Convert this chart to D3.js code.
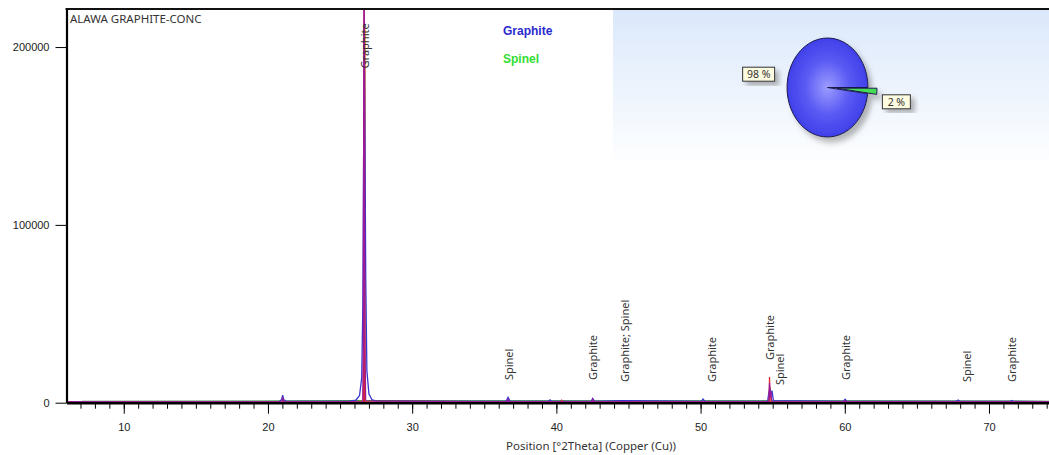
<!DOCTYPE html>
<html>
<head>
<meta charset="utf-8">
<script src="https://cdn.jsdelivr.net/npm/d3@7"></script>
<style>
  body { margin: 0; background: #fff; }
  svg { display: block; font-family: "Noto Sans", "Liberation Sans", sans-serif; }
  .axis text { font-size: 11px; fill: #222; }
  .axis path, .axis line { stroke: #000; }
</style>
</head>
<body>
<svg id="chart" width="1049" height="455"></svg>
<script>
// ---- data ----
var title = "ALAWA GRAPHITE-CONC";
var xTitle = "Position [°2Theta] (Copper (Cu))";
var xDomain = [6.03, 74.16];
var yDomain = [0, 221400];
var xMajorTicks = [10, 20, 30, 40, 50, 60, 70];
var yTicks = [0, 100000, 200000];

// observed scan (blue)
var observed = [[6.03,600],[18.3,600],[20.8,700],[20.95,1800],[21.02,4200],[21.1,1600],[21.3,700],
  [25.6,800],[26.1,1500],[26.35,4000],[26.5,14000],[26.58,55000],[26.64,150000],[26.68,212000],
  [26.72,160000],[26.78,70000],[26.86,18000],[27.0,5000],[27.2,1800],[27.5,900],[36.5,700],
  [36.65,3000],[36.8,800],[39.45,700],[39.56,1600],[39.7,700],[42.4,700],[42.52,2400],[42.65,700],
  [44.6,1100],[50.05,700],[50.17,2000],[50.3,700],[54.65,800],[54.72,5000],[54.8,8300],[54.88,4500],
  [54.95,6800],[55.05,1200],[59.9,700],[60.02,1900],[60.15,700],[67.7,700],[67.86,1500],[68.0,700],
  [71.45,700],[71.58,1300],[71.7,700],[74.16,650]];
// calculated profile (purple)
var calculated = [[6.03,500],[20.95,500],[21.02,2500],[21.09,500],[26.57,500],[26.61,30000],
  [26.64,170000],[26.67,245000],[26.69,190000],[26.72,40000],[26.77,1000],[36.6,500],[36.65,2200],
  [36.7,500],[42.47,500],[42.52,1800],[42.57,500],[54.74,500],[54.78,11000],[54.83,3000],
  [54.88,6000],[54.93,500],[60.0,500],[60.02,1500],[60.05,500],[74.16,500]];
// second profile (red)
var redProfile = [[6.03,300],[26.63,300],[26.65,70000],[26.66,260000],[26.675,70000],[26.69,300],
  [40.3,300],[40.37,1300],[40.44,300],[54.76,300],[54.78,14500],[54.8,300],[74.16,300]];
// orange scan
var orangeProfile = [[6.03,400],[23.8,400],[26.3,700],[26.73,900],[26.74,210000],[26.76,900],
  [27.2,500],[54.8,500],[54.83,9000],[54.86,500],[74.16,400]];
// background (green)
var background = [[7.1,800],[18.3,820],[28,1100],[33,1000],[53,950],[58,950],[74.16,800]];

var series = [
  {name: "background", color: "#2a8a2a", points: background},
  {name: "orange", color: "#ff9a30", points: orangeProfile},
  {name: "observed", color: "#3636d0", points: observed},
  {name: "red", color: "#e02828", points: redProfile},
  {name: "calculated", color: "#9a1a9a", points: calculated}
];

var peakLabels = [
  {pos: 26.72, text: "Graphite", at: 188000},
  {pos: 36.74, text: "Spinel", at: 12700},
  {pos: 42.57, text: "Graphite", at: 12700},
  {pos: 44.76, text: "Graphite; Spinel", at: 11600},
  {pos: 50.78, text: "Graphite", at: 11600},
  {pos: 54.82, text: "Graphite", at: 24000},
  {pos: 55.51, text: "Spinel", at: 9900},
  {pos: 60.09, text: "Graphite", at: 12700},
  {pos: 68.46, text: "Spinel", at: 11600},
  {pos: 71.60, text: "Graphite", at: 11600}
];

var phases = ["Graphite", "Spinel"];
var phaseShares = [98, 2];
var phaseColors = ["#4040ea", "#44dd55"];
var legendColors = ["#2a2ad0", "#33dd33"];

// ---- layout ----
var plot = {left: 66.5, top: 9, right: 1049, bottom: 402.7};
var svg = d3.select("#chart");
var defs = svg.append("defs");

var x = d3.scaleLinear().domain(xDomain).range([plot.left, plot.right]);
var y = d3.scaleLinear().domain(yDomain).range([plot.bottom, plot.top]);

// pie background panel
var grad = defs.append("linearGradient").attr("id", "panel").attr("x1", 0).attr("y1", 0).attr("x2", 0).attr("y2", 1);
grad.append("stop").attr("offset", "0%").attr("stop-color", "#dbe8fb");
grad.append("stop").attr("offset", "100%").attr("stop-color", "#fdfeff");
svg.append("rect").attr("x", 613).attr("y", 10).attr("width", 436).attr("height", 150).attr("fill", "url(#panel)");

defs.append("clipPath").attr("id", "plotclip").append("rect")
    .attr("x", plot.left).attr("y", plot.top).attr("width", plot.right - plot.left).attr("height", plot.bottom - plot.top);

var line = d3.line().x(function(d) { return x(d[0]); }).y(function(d) { return y(d[1]); });

var lines = svg.append("g").attr("clip-path", "url(#plotclip)");
series.forEach(function(s) {
  lines.append("path")
      .datum(s.points)
      .attr("fill", "none")
      .attr("stroke", s.color)
      .attr("stroke-width", 1.3)
      .attr("d", line);
});

// axes
var minorTicks = d3.range(7, 75);
svg.append("g")
    .attr("class", "axis")
    .attr("transform", "translate(0," + plot.bottom + ")")
    .call(d3.axisBottom(x).tickValues(minorTicks).tickSize(6).tickFormat(""))
    .call(function(g) { g.select(".domain").remove(); });

svg.append("g")
    .attr("class", "axis")
    .attr("transform", "translate(0," + plot.bottom + ")")
    .call(d3.axisBottom(x).tickValues(xMajorTicks).tickSize(11).tickSizeOuter(0).tickPadding(6).tickFormat(d3.format("d")))
    .call(function(g) { g.select(".domain").attr("stroke-width", 2.5); g.selectAll("text").attr("dy", "1.0em"); });

svg.append("g")
    .attr("class", "axis")
    .attr("transform", "translate(" + plot.left + ",0)")
    .call(d3.axisLeft(y).tickValues(yTicks).tickSize(11).tickSizeOuter(0).tickPadding(6).tickFormat(d3.format("d")))
    .call(function(g) { g.select(".domain").attr("stroke-width", 2.2); });

// top border
svg.append("line")
    .attr("x1", plot.left - 1).attr("x2", plot.right).attr("y1", plot.top).attr("y2", plot.top)
    .attr("stroke", "#111").attr("stroke-width", 2);

svg.append("text")
    .attr("x", 70).attr("y", 22.5)
    .attr("font-size", 11.5).attr("fill", "#333")
    .text(title);

svg.append("text")
    .attr("x", 591).attr("y", 450)
    .attr("text-anchor", "middle")
    .attr("font-size", 11.5).attr("fill", "#333")
    .text(xTitle);

// peak labels
svg.append("g").selectAll("text")
    .data(peakLabels)
  .enter().append("text")
    .attr("transform", function(d) { return "translate(" + x(d.pos) + "," + y(d.at) + ")rotate(-90)"; })
    .attr("dy", "0.35em")
    .attr("font-size", 11).attr("fill", "#333")
    .text(function(d) { return d.text; });

// legend
svg.append("g").selectAll("text")
    .data(phases)
  .enter().append("text")
    .attr("x", 503)
    .attr("y", function(d, i) { return 34.5 + i * 28; })
    .attr("font-family", "Liberation Sans, sans-serif")
    .attr("font-weight", "bold").attr("font-size", 12)
    .attr("fill", function(d, i) { return legendColors[i]; })
    .text(function(d) { return d; });

// pie
var pieCx = 827.5, pieCy = 87.5, rx = 40.5, ry = 49.5;
var rg = defs.append("radialGradient").attr("id", "pieblue").attr("cx", "50%").attr("cy", "50%").attr("r", "50%");
rg.append("stop").attr("offset", "0%").attr("stop-color", "#9c9cff");
rg.append("stop").attr("offset", "55%").attr("stop-color", "#5a5af4");
rg.append("stop").attr("offset", "100%").attr("stop-color", phaseColors[0]);
var sh = defs.append("filter").attr("id", "shadow").attr("x", "-30%").attr("y", "-30%").attr("width", "160%").attr("height", "160%");
sh.append("feDropShadow").attr("dx", 4).attr("dy", 4).attr("stdDeviation", 2.5).attr("flood-color", "#777").attr("flood-opacity", 0.55);

var pie = d3.pie().sort(null).startAngle(0.54 * Math.PI).endAngle(2.54 * Math.PI);
var arcs = pie(phaseShares);
var arc = d3.arc().innerRadius(0).outerRadius(rx);

var pg = svg.append("g")
    .attr("transform", "translate(" + pieCx + "," + pieCy + ")scale(1," + (ry / rx) + ")")
    .attr("filter", "url(#shadow)");
pg.selectAll("path")
    .data(arcs)
  .enter().append("path")
    .attr("d", arc)
    .attr("transform", function(d, i) {
      if (i === 0) return null;
      var a = (d.startAngle + d.endAngle) / 2;
      return "translate(" + (Math.sin(a) * 9) + "," + (-Math.cos(a) * 9) + ")";
    })
    .attr("fill", function(d, i) { return i === 0 ? "url(#pieblue)" : phaseColors[1]; })
    .attr("stroke", "#1a1a50")
    .attr("stroke-width", 1)
    .attr("vector-effect", "non-scaling-stroke");

// pie labels
var lab = svg.append("g").selectAll("g")
    .data(arcs)
  .enter().append("g")
    .attr("transform", function(d) {
      var a = (d.startAngle + d.endAngle) / 2;
      var lx = pieCx + Math.sin(a) * 69;
      var ly = pieCy - Math.cos(a) * 69 * (ry / rx) + (Math.sin(a) < 0 ? -8 : 9);
      return "translate(" + lx + "," + ly + ")";
    });
lab.append("rect")
    .attr("x", function(d, i) { return i === 0 ? -16 : -14; })
    .attr("y", -7)
    .attr("width", function(d, i) { return i === 0 ? 32 : 28; })
    .attr("height", 14)
    .attr("fill", "#fdfbe0").attr("stroke", "#333").attr("stroke-width", 1)
    .attr("filter", "url(#shadow)");
lab.append("text")
    .attr("text-anchor", "middle").attr("dy", "0.36em")
    .attr("font-size", 10.5).attr("fill", "#333")
    .text(function(d) { return d.data + " %"; });
</script>
</body>
</html>
